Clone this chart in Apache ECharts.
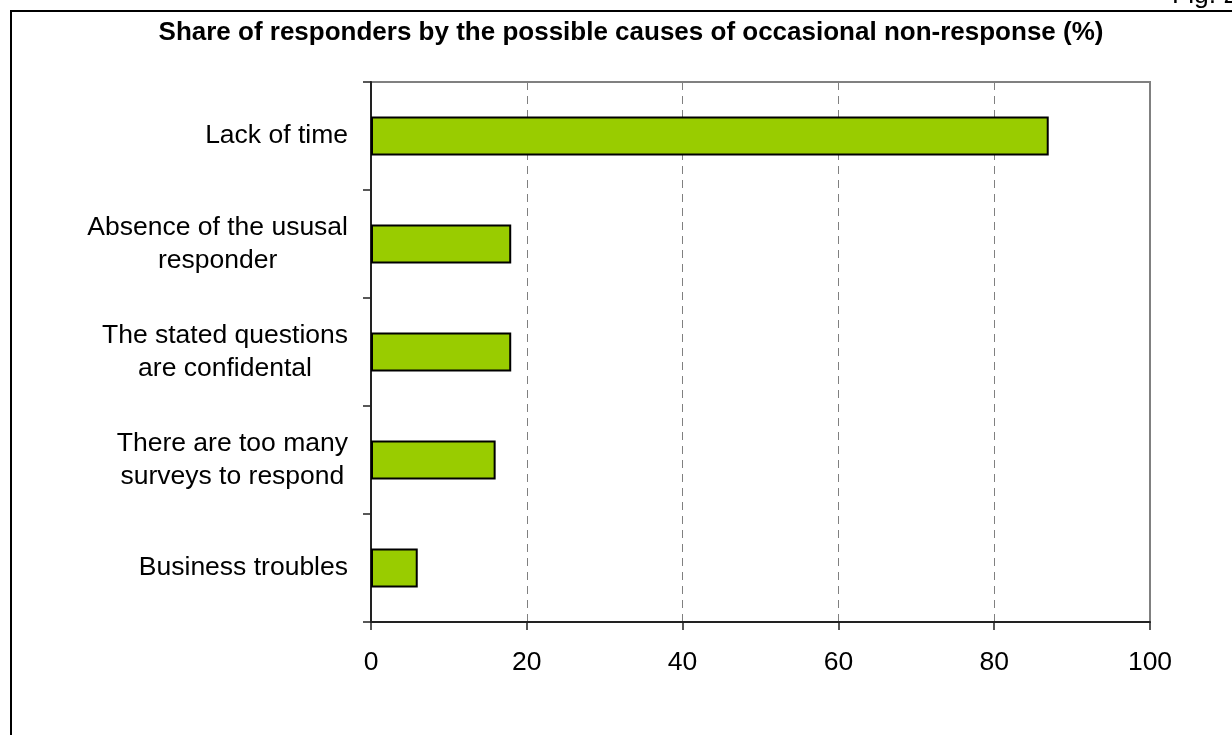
<!DOCTYPE html>
<html>
<head>
<meta charset="utf-8">
<script src="https://cdn.jsdelivr.net/npm/echarts@6/dist/echarts.min.js"></script>
<style>
  html, body { margin: 0; padding: 0; background: #fff; }
  #chart { width: 1232px; height: 735px; }
</style>
</head>
<body>
<div id="chart"></div>
<script>
// Possible causes of occasional non-response, top to bottom
var causes = [
  'Lack of time',
  'Absence of the ususal\nresponder',
  'The stated questions\nare confidental',
  'There are too many\nsurveys to respond',
  'Business troubles'
];
// Share of responders citing each cause (%)
var shares = [87, 18, 18, 16, 6];
var titleText = 'Share of responders by the possible causes of occasional non-response (%)';
var figLabel = 'Fig. 2';

var chart = echarts.init(document.getElementById('chart'), null, { renderer: 'canvas' });
var baseFont = 'Liberation Sans, Arial, sans-serif';
var labelSize = 26.5;

chart.setOption({
  animation: false,
  backgroundColor: '#ffffff',
  grid: {
    left: 371, top: 82, width: 779, height: 540,
    show: true, borderColor: '#808080', borderWidth: 2, backgroundColor: 'transparent'
  },
  graphic: [
    {
      type: 'rect', silent: true, z: 0,
      shape: { x: 11, y: 11, width: 1400, height: 900 },
      style: { fill: 'none', stroke: '#000', lineWidth: 2 }
    },
    {
      type: 'text', z: 10,
      style: {
        text: titleText, x: 631, y: 33,
        fill: '#000', font: 'bold 26px "Liberation Sans", Arial, sans-serif',
        textAlign: 'center', textVerticalAlign: 'middle'
      }
    },
    {
      type: 'text', z: 10,
      style: {
        text: figLabel, x: 1172, y: 9,
        fill: '#000', font: labelSize + 'px ' + baseFont,
        textAlign: 'left', textVerticalAlign: 'bottom'
      }
    }
  ],
  xAxis: {
    type: 'value', min: 0, max: 100, interval: 20,
    axisLine: { show: true, lineStyle: { color: '#222', width: 2 } },
    axisTick: { show: true, length: 8, lineStyle: { color: '#222', width: 1.5 } },
    axisLabel: { color: '#000', fontSize: labelSize, fontFamily: baseFont, margin: 27 },
    splitLine: { show: true, lineStyle: { color: '#808080', type: [8, 6], width: 1 } }
  },
  yAxis: {
    type: 'category', data: causes, inverse: true,
    axisLine: { show: true, lineStyle: { color: '#222', width: 2 } },
    axisTick: { show: true, length: 8, lineStyle: { color: '#222', width: 1.5 } },
    axisLabel: {
      color: '#000', fontSize: labelSize, fontFamily: baseFont, margin: 23, align: 'right',
      formatter: function (v) {
        return v.split('\n').map(function (line) { return '{c|' + line + '}'; }).join('\n');
      },
      rich: { c: { align: 'center', fontSize: labelSize, fontFamily: baseFont, color: '#000', lineHeight: 33 } }
    },
    splitLine: { show: false }
  },
  series: [{
    type: 'bar', data: shares, barWidth: 39,
    itemStyle: { color: '#99cc00', borderColor: '#000', borderWidth: 2 }
  }]
});
</script>
</body>
</html>
